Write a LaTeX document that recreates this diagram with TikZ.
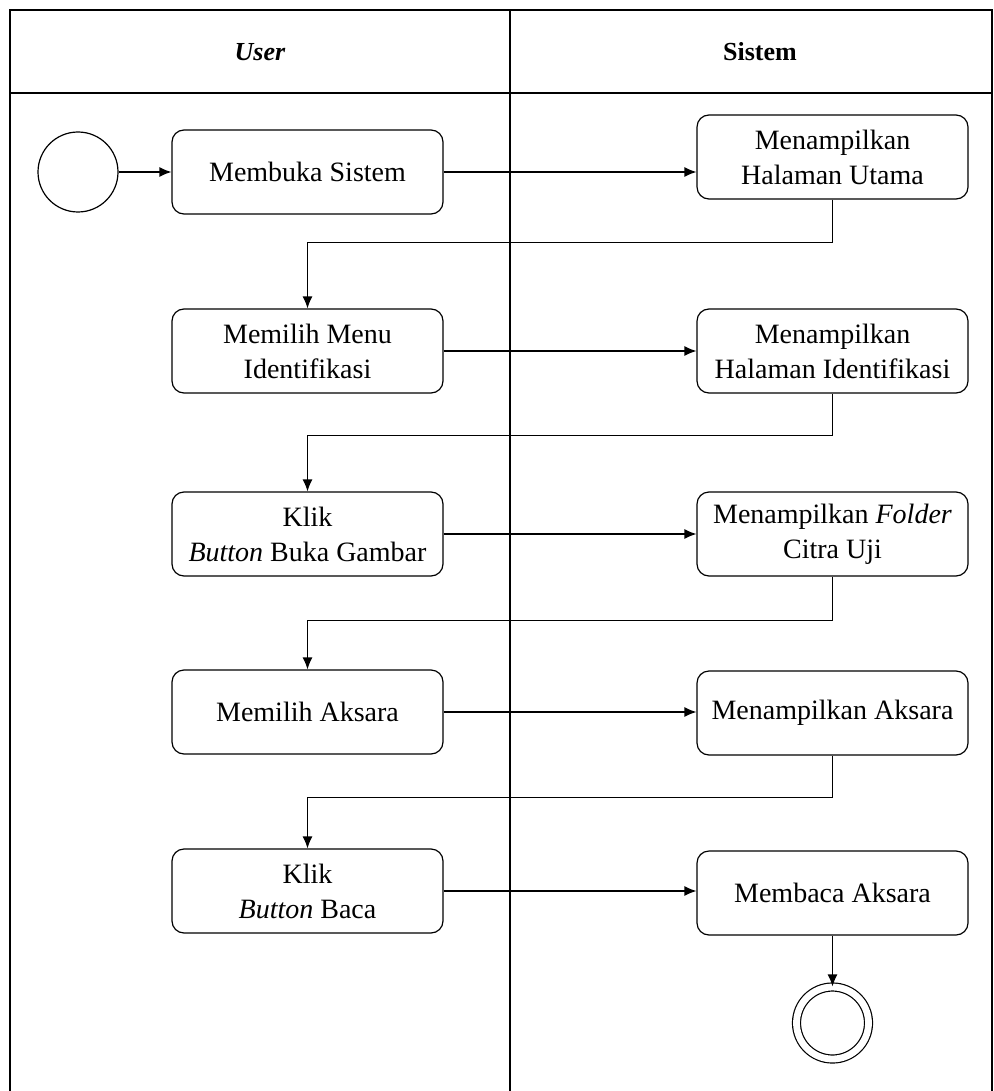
\documentclass[tikz,border=0pt]{standalone}
\usepackage{fontspec}
\setmainfont{Liberation Serif}
\usepackage{tikz}
\usetikzlibrary{
    calc,
    arrows.meta,
    shapes.geometric
}
\tikzset{
    action/.style={draw, line width=0.6pt, rounded corners=6pt, align=center,
        minimum width=135.5pt, minimum height=42pt, inner sep=2pt,
        font=\fontsize{14}{17.5}\selectfont},
    startnode/.style={draw, circle, line width=0.6pt, minimum size=40pt, inner sep=0pt},
    endnode/.style={draw, circle, line width=0.6pt, double, double distance=3.4pt,
        minimum size=36pt, inner sep=0pt},
    lane/.style={line width=0.8pt},
    flow/.style={-{Latex[length=6pt,width=5pt]}, line width=0.6pt},
    lanetitle/.style={font=\fontsize{13}{15}\selectfont\bfseries}
}

\begin{document}
\begin{tikzpicture}[x=0.5pt, y=-0.5pt]
        \useasboundingbox (0,0) rectangle (993,1091);

        % swimlanes
        \draw[lane] (10,1091) -- (10,10) -- (992,10) -- (992,1091);
        \draw[lane] (10,93) -- (992,93);
        \draw[lane] (510,10) -- (510,1091);
        \draw (260,52) node[lanetitle](user){\itshape User};
        \draw (760,52) node[lanetitle](sistem){Sistem};

        \draw (78,172) node[startnode](start){};
        \draw (307.5,172) node[action](l1){Membuka Sistem};
        \draw (832.5,157) node[action](r1){Menampilkan\\Halaman Utama};
        \draw (307.5,351) node[action](l2){Memilih Menu\\Identifikasi};
        \draw (832.5,351) node[action](r2){Menampilkan\\Halaman Identifikasi};
        \draw (307.5,534) node[action](l3){Klik\\\textit{Button} Buka Gambar};
        \draw (832.5,534) node[action](r3){Menampilkan \textit{Folder}\\Citra Uji};
        \draw (307.5,712) node[action](l4){Memilih Aksara};
        \draw (832.5,713) node[action](r4){Menampilkan Aksara};
        \draw (307.5,891) node[action](l5){Klik\\\textit{Button} Baca};
        \draw (832.5,893) node[action](r5){Membaca Aksara};
        \draw (832.5,1023) node[endnode](finish){};

        \draw[flow] (start) -- (l1);
        \draw[flow] (l1.east) -- (l1.east -| r1.west);
        \draw[flow] (r1.south) -- ++(0,43) -| (l2.north);
        \draw[flow] (l2.east) -- (l2.east -| r2.west);
        \draw[flow] (r2.south) -- ++(0,42) -| (l3.north);
        \draw[flow] (l3.east) -- (l3.east -| r3.west);
        \draw[flow] (r3.south) -- ++(0,44) -| (l4.north);
        \draw[flow] (l4.east) -- (l4.east -| r4.west);
        \draw[flow] (r4.south) -- ++(0,42) -| (l5.north);
        \draw[flow] (l5.east) -- (l5.east -| r5.west);
        \draw[flow] (r5) -- (finish);
    \end{tikzpicture}
\end{document}
